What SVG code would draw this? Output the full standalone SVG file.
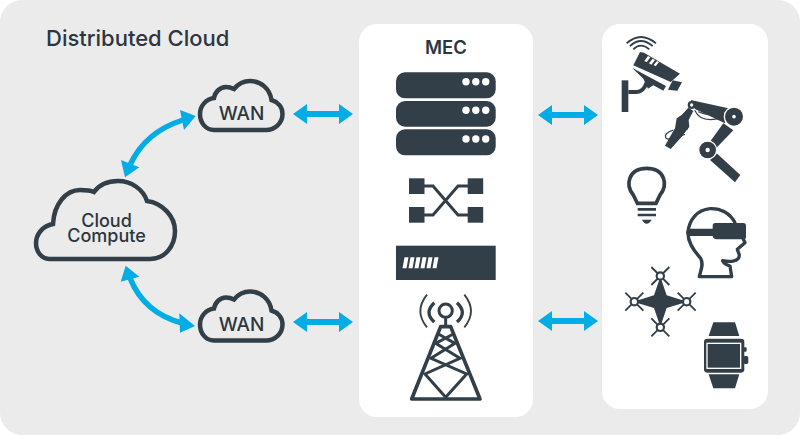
<svg xmlns="http://www.w3.org/2000/svg" width="800" height="435" viewBox="0 0 800 435">
<style>
text{font-family:Inter,"Liberation Sans",sans-serif;font-weight:500;fill:#2b3640}
.d{fill:#333f48}
.l{fill:none;stroke:#333f48}
.w{fill:#fff}
.c{fill:none;stroke:#333f48;stroke-width:4.500}
.a{fill:none;stroke:#00ade5;stroke-width:5.500}
.h{fill:#00ade5}
</style>
<defs>
<path id="sc" d="M214 130H266C275 130 282.500 123 282.500 114C282.500 107 278 102 271.500 100C270 89 261 81 250 81C243 81 238 84 234 89C231 87.500 229 87 226 87C220 87 215 92 214 98C206 99 200 106 200 114C200 123 206 130 214 130Z"/>
<path id="da" d="M0 0L14 -10V-3H46V-10L60 0L46 10V3H14V10Z"/>
</defs>
<rect width="800" height="435" rx="22" fill="#ebebeb"/>
<rect x="359" y="24" width="174" height="393" rx="18" fill="#fff"/>
<rect x="602" y="24" width="166" height="385" rx="18" fill="#fff"/>
<text x="46" y="46" font-size="22">Distributed Cloud</text>
<text x="446" y="53.500" font-size="18.500" text-anchor="middle" style="font-weight:600">MEC</text>

<g id="connectors">
<use href="#da" x="293" y="114" class="h"/>
<use href="#da" x="293" y="322" class="h"/>
<use href="#da" x="538" y="115" class="h"/>
<use href="#da" x="538" y="321" class="h"/>
<path class="a" d="M183 120Q145 132 130 165"/>
<polygon class="h" points="195.700,116 180,110 184,130"/>
<polygon class="h" points="125,177.300 121,160 139.300,167.300"/>
<path class="a" d="M182 323Q144 313 130 278"/>
<polygon class="h" points="195,326 179.300,313.300 180,332.700"/>
<polygon class="h" points="125.700,265.700 120.700,281.700 139.300,276.700"/>
</g>

<g id="cloud-compute">
<path class="c" d="M49 259H150C165 259 175 246 175 231C175 216 162 203 147 201C143 189 131 181 118 181C108 181 99 185 94 192C90 190 85 190 80 190C66 190 54 204 53 224C42 226 36 235 36 243C36 252 42 259 49 259Z"/>
<text x="106.500" y="227" font-size="18" text-anchor="middle">Cloud</text>
<text x="106.500" y="242" font-size="18" text-anchor="middle">Compute</text>
</g>
<g id="wan-top">
<use href="#sc" class="c"/>
<text x="241.500" y="120" font-size="19" text-anchor="middle">WAN</text>
</g>
<g id="wan-bottom">
<use href="#sc" y="210.500" class="c"/>
<text x="241.500" y="330.500" font-size="19" text-anchor="middle">WAN</text>
</g>

<g id="server">
<rect class="d" x="396" y="72.300" width="99.700" height="26" rx="9"/>
<rect class="d" x="396" y="101" width="99.700" height="25.700" rx="9"/>
<rect class="d" x="396" y="129.300" width="99.700" height="26" rx="9"/>
<g class="w">
<circle cx="466" cy="81.700" r="3.700"/><circle cx="475.800" cy="81.700" r="3.700"/><circle cx="485.700" cy="81.700" r="3.700"/>
<circle cx="466" cy="110.300" r="3.700"/><circle cx="475.800" cy="110.300" r="3.700"/><circle cx="485.700" cy="110.300" r="3.700"/>
<circle cx="466" cy="139" r="3.700"/><circle cx="475.800" cy="139" r="3.700"/><circle cx="485.700" cy="139" r="3.700"/>
</g>
</g>
<g id="switch">
<rect class="d" x="409" y="178.300" width="15.500" height="15.700"/>
<rect class="d" x="467.700" y="178.300" width="15.500" height="15.700"/>
<rect class="d" x="409" y="207" width="15.500" height="15.700"/>
<rect class="d" x="467.700" y="207" width="15.500" height="15.700"/>
<path class="l" stroke-width="3" d="M424 186H433L458 215H468M424 215H433L458 186H468"/>
</g>
<g id="appliance">
<rect class="d" x="396" y="245.700" width="99.700" height="34.300"/>
<path class="w" d="M404.500 257.300h4l-2 11h-4zM410.500 257.300h4l-2 11h-4zM416.500 257.300h4l-2 11h-4zM422.500 257.300h4l-2 11h-4zM428.500 257.300h4l-2 11h-4zM434.500 257.300h4l-2 11h-4z"/>
</g>
<g id="tower" transform="translate(405 290) scale(.3333)">
<circle class="l" stroke-width="9" cx="122" cy="62" r="20"/>
<path class="l" stroke-width="9" d="M122 82V108"/>
<path class="l" stroke-width="11" stroke-linejoin="round" d="M20 327L107 110H137L225 327Z"/>
<path class="l" stroke-width="9" d="M100 132L150 160L78 205L185 252L122 322L60 252L165 205L92 160L145 132"/>
<path class="l" stroke-width="10" d="M88 38Q56 68 88 96M156 38Q188 68 156 96"/>
<path class="l" stroke-width="5.500" d="M66 14Q26 64 66 112M178 14Q218 64 178 112"/>
</g>

<g id="camera" transform="translate(620 32) scale(.3333)">
<path class="l" stroke-width="5.500" d="M20 34Q62 -4 108 34M30 42Q62 12 98 42M40 52Q62 30 88 52"/>
<path class="d" d="M60 60L72 62L180 125L152 150L40 100Z"/>
<path class="d" d="M36 107L138 162L130 176L100 160L84 170L70 140Z"/>
<path class="d" d="M158 145L186 151L172 176L144 173Z"/>
<path class="w" d="M84 72L91 76L80 91L73 87ZM98 80L105 84L94 98L87 94ZM111 87L117 90L107 103L101 99Z"/>
<rect class="d" x="5" y="145" width="20" height="95"/>
<path class="l" stroke-width="12" d="M25 180H50Q70 180 80 152"/>
</g>
<g id="robot-arm" transform="translate(660 95) scale(.3333)">
<path class="d" d="M92 15L205 40L195 85L105 42Z"/>
<path class="d" d="M190 85L220 106L166 162L150 140Z"/>
<path class="d" d="M170 175L241 240L225 262L150 195Z"/>
<path class="d" d="M85 38L100 48L86 75L88 95L65 125L32 162L15 152L30 125L45 100L50 70L65 60Z"/>
<path class="l" stroke-width="3.500" d="M104 46Q125 90 195 65M115 50Q150 65 190 60M40 105Q10 115 18 130Q30 138 75 118M70 85Q90 90 80 105"/>
<circle class="d" cx="95" cy="30" r="12"/><circle class="w" cx="95" cy="30" r="5"/>
<circle class="d" cx="222" cy="65" r="29" stroke="#fff" stroke-width="4"/><circle class="w" cx="222" cy="65" r="5.500"/>
<circle class="d" cx="143" cy="165" r="27" stroke="#fff" stroke-width="4"/><circle class="w" cx="143" cy="165" r="6.500"/>
</g>
<g id="bulb" transform="translate(610 160) scale(.3333)">
<path class="l" stroke-width="11" d="M82 130L70 105C45 75 55 25 110 25C165 25 175 75 150 105L138 130Z"/>
<path class="l" stroke-width="8" d="M83 148H138M83 165H138"/>
<path class="d" d="M96 179H125Q118 191 110 191Q102 191 96 179Z"/>
</g>
<g id="vr-head" transform="translate(680 200) scale(.3333)">
<path class="l" stroke-width="10" stroke-linejoin="round" d="M166 70C150 38 120 24 90 26C50 30 28 60 24 95C22 125 40 150 62 175C72 195 62 210 58 230H155L150 198C140 195 130 190 128 182C145 185 178 188 178 165L172 148L195 128L185 106"/>
<path class="d" d="M106 69H190Q198 69 198 77V110Q198 118 190 118H110Q100 118 98 108H24Q14 96 24 86H98V77Q98 69 106 69Z"/>
</g>
<g id="drone" transform="translate(610 260) scale(.3333)">
<path class="d" d="M151 50L170 106L232 125L170 144L151 200L132 144L70 125L132 106Z"/>
<path class="l" stroke-width="5.500" d="M124 21L178 75M178 21L124 75M203 98L257 152M257 98L203 152M124 175L178 229M178 175L124 229M46 98L100 152M100 98L46 152"/>
<g fill="#fff" stroke="#333f48" stroke-width="6.500">
<circle cx="151" cy="48" r="11"/><circle cx="230" cy="125" r="11"/><circle cx="151" cy="202" r="11"/><circle cx="73" cy="125" r="11"/>
</g>
</g>
<g id="watch" transform="translate(610 260) scale(.3333)">
<rect class="d" x="282" y="236" width="121" height="102" rx="10"/>
<rect x="291" y="250" width="101" height="75" fill="none" stroke="#fff" stroke-width="4"/>
<rect class="d" x="400" y="262" width="10" height="13" rx="3"/>
<rect class="d" x="400" y="288" width="15" height="24" rx="5"/>
<path class="d" d="M310 187H375L388 228H296Z"/>
<path class="d" d="M296 343H388L375 385H310Z"/>
</g>
</svg>
